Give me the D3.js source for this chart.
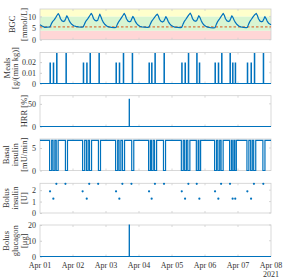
<!DOCTYPE html>
<html><head><meta charset="utf-8">
<script src="https://cdn.jsdelivr.net/npm/d3@7"></script>
<style>
html,body{margin:0;padding:0;background:#fff;}
svg{display:block;}
text{font-family:"Liberation Serif","DejaVu Serif",serif;}
</style></head><body>
<svg id="chart" width="299" height="277"></svg>
<script>
// ---- data (hours since 2021-04-01 00:00) ----
const xTickLabels = ["Apr 01","Apr 02","Apr 03","Apr 04","Apr 05","Apr 06","Apr 07","Apr 08"];
const bgc = [
[0,6.4],[1.5,5.9],[3.5,5.3],[5.5,5.4],[7.3,5.5],[8.3,6.9],[9.3,7.9],[10.3,8.5],[11.3,9.4],[12.3,10.4],[13.3,11.2],[14.1,10.4],[14.9,9.0],[16,8.1],[17,7.8],[18,8.1],[18.8,9.2],[19.5,10.3],[20.3,9.5],[21.2,8.2],[22.2,7.2],[23.3,6.5],
[24.5,6.0],[26,5.7],[28,5.5],[30,5.4],[31.4,5.5],[32.4,6.8],[33.4,8.0],[34.4,8.7],[35.4,9.6],[36.4,10.5],[37.3,11.3],[38.1,10.5],[38.9,9.1],[40,8.3],[41,8.1],[42,8.4],[42.8,9.8],[43.5,11.0],[44.3,9.9],[45.2,8.5],[46.2,7.3],[47.3,6.5],
[48.5,5.9],[50,5.5],[52,5.3],[54,5.2],[55.3,5.3],[56.3,6.7],[57.3,7.8],[58.3,8.6],[59.3,9.5],[60.3,10.4],[61.3,11.3],[62.1,10.4],[62.9,9.0],[64,8.0],[65,7.7],[66,7.9],[66.8,9.0],[67.5,10.0],[68.3,9.3],[69.2,8.0],[70.2,7.0],[71.3,6.3],
[72.5,5.8],[74,5.5],[76,5.4],[78,5.3],[79.3,5.4],[80.3,6.8],[81.3,8.0],[82.3,8.8],[83.3,9.6],[84.3,10.4],[85.3,11.0],[86.1,10.2],[86.9,8.8],[88,7.9],[89,7.6],[90,7.9],[90.8,8.9],[91.5,9.9],[92.3,9.2],[93.2,7.9],[94.2,6.9],[95.3,6.2],
[96.5,5.8],[98,5.4],[100,5.3],[102,5.2],[103.1,5.3],[104.1,6.8],[105.1,8.0],[106.1,8.8],[107.1,9.7],[108.1,10.6],[109.3,11.4],[110.1,10.5],[110.9,9.1],[112,8.2],[113,7.9],[114,8.2],[114.8,9.3],[115.5,10.3],[116.3,9.6],[117.2,8.3],[118.2,7.1],[119.3,6.3],
[120.5,5.8],[122,5.4],[124,5.2],[126,5.1],[127.3,5.2],[128.3,6.7],[129.3,7.9],[130.3,8.7],[131.3,9.6],[132.3,10.5],[133.3,11.3],[134.1,10.4],[134.9,9.0],[136,8.1],[137,7.8],[138,8.1],[138.8,9.2],[139.5,10.3],[140.3,9.6],[141.2,8.4],[142.2,7.3],[143.3,6.5],
[144.5,5.9],[146,5.5],[148,5.3],[150,5.2],[150.8,5.3],[151.8,6.8],[152.8,8.0],[153.8,8.8],[154.8,9.7],[155.8,10.5],[157.3,11.3],[158.1,10.4],[158.9,9.0],[160,8.0],[161,7.7],[162,7.9],[162.8,8.9],[163.5,9.9],[164.3,9.2],[165.2,8.0],[166.2,7.1],[168,6.4]
];
const bgcTarget = 5.5;
const bgcBands = [[0,3.9,"#ffd6d6"],[3.9,10,"#d8f5d2"],[10,13.3,"#ffffcc"]];
const meals = [
[7.3,0.019],[9.7,0.019],[12.1,0.028],[18.9,0.028],
[31.5,0.019],[34.0,0.019],[36.4,0.028],[42.9,0.028],
[55.3,0.019],[57.7,0.019],[60.6,0.028],[67.1,0.028],
[79.3,0.019],[81.2,0.019],[83.6,0.028],[90.2,0.028],
[103.1,0.019],[105.5,0.019],[107.9,0.028],[114.0,0.028],[115.9,0.019],
[127.3,0.019],[129.7,0.019],[132.1,0.028],[138.2,0.028],[140.1,0.019],[142.0,0.019],
[150.8,0.019],[153.5,0.019],[155.9,0.028],[162.4,0.028]
];
const hrr = [[64.9,60]];
const basalHigh = 6.7;
const basalZero = [
[7.0,8.5],[9.5,10.8],[11.8,13.2],[18.5,20.0],
[31.0,32.5],[33.8,35.0],[36.0,37.5],[42.5,44.0],
[55.0,56.5],[57.5,58.8],[60.0,61.5],[66.7,68.2],
[79.0,80.3],[81.0,82.3],[83.3,84.8],[89.8,91.3],
[102.8,104.2],[105.2,106.5],[107.5,109.0],[113.7,115.0],[115.6,116.8],
[127.0,128.4],[129.4,130.7],[131.7,133.2],[137.9,139.2],[139.8,141.0],[141.7,142.8],
[150.5,151.9],[153.2,154.4],[155.4,156.9],[162.1,163.6]
];
const bolus = [
[7.3,1.9],[9.7,1.25],[11.9,2.55],[18.5,2.55],
[31.0,1.9],[34.0,1.25],[35.8,2.55],[42.3,2.55],
[55.3,1.9],[57.7,1.25],[59.9,2.55],[66.5,2.55],
[79.3,1.9],[81.2,1.25],[83.6,2.55],[90.2,2.55],
[103.1,1.9],[105.5,1.25],[107.9,2.55],[114.0,2.55],[115.9,1.25],
[127.3,1.9],[129.7,1.25],[131.7,2.55],[138.2,2.55],[140.1,1.25],[142.0,1.25],
[150.8,1.9],[153.5,1.25],[155.6,2.55],[162.4,2.55]
];
const glucagon = [[64.9,20]];

// ---- layout ----
const svg = d3.select("#chart");
const t0 = new Date(2021,3,1);
const hToDate = h => new Date(t0.getTime() + h*3600e3);
const x = d3.scaleTime().domain([t0, new Date(2021,3,8)]).range([40,271]);
const blue = "#0072BD";
const axisCol = "#cfcfcf";
const txtCol = "#333";

const panels = [
 {top:9, bot:39.7, dom:[0,13.2], ticks:[0,5,10], fmt:d=>d, labels:["BGC","[mmol/L]"], lx:[12.5,24]},
 {top:52.5, bot:83.5, dom:[0,0.029], ticks:[0,0.01,0.02], fmt:d=>d===0?"0":d.toFixed(2), labels:["Meals","[g/(min kg)]"], lx:[7,15.5]},
 {top:95.7, bot:126.5, dom:[0,68], ticks:[0,50], fmt:d=>d, labels:["HRR [%]"], lx:[24]},
 {top:139, bot:170.5, dom:[0,7], ticks:[0,5], fmt:d=>d, labels:["Basal","insulin","[mU/min]"], lx:[6.5,15,24]},
 {top:183.3, bot:213, dom:[0,2.6], ticks:[0,1,2], fmt:d=>d, labels:["Bolus","insulin","[U]"], lx:[6.5,15,24]},
 {top:225, bot:256.5, dom:[0,20], ticks:[0,10,20], fmt:d=>d, labels:["Bolus","glucagon","[\u03bcg]"], lx:[6.5,15,24]}
];
panels.forEach(p => { p.y = d3.scaleLinear().domain(p.dom).range([p.bot,p.top]); });

const days = d3.range(0,8).map(d => new Date(2021,3,1+d));

function frame(p, i){
  const g = svg.append("g");
  g.append("rect").attr("x",40).attr("y",p.top).attr("width",231).attr("height",p.bot-p.top)
   .attr("fill","none").attr("stroke",axisCol).attr("stroke-width",0.8);
  days.slice(1,7).forEach(d=>{
    g.append("line").attr("x1",x(d)).attr("x2",x(d)).attr("y1",p.bot).attr("y2",p.bot-2).attr("stroke",axisCol).attr("stroke-width",0.8);
    g.append("line").attr("x1",x(d)).attr("x2",x(d)).attr("y1",p.top).attr("y2",p.top+2).attr("stroke",axisCol).attr("stroke-width",0.8);
  });
  const ax = d3.axisLeft(p.y).tickValues(p.ticks).tickFormat(p.fmt).tickSizeInner(-2).tickSizeOuter(0).tickPadding(4);
  const ag = g.append("g").attr("transform","translate(40,0)").call(ax);
  ag.select(".domain").remove();
  ag.selectAll("line").attr("stroke",axisCol);
  ag.selectAll("text").attr("fill",txtCol).style("font-size","8px").style("font-family","'Liberation Serif',serif");
  p.ticks.forEach(t=>{
    g.append("line").attr("x1",271).attr("x2",269).attr("y1",p.y(t)).attr("y2",p.y(t)).attr("stroke",axisCol).attr("stroke-width",0.8);
  });
  const cy = (p.top+p.bot)/2;
  p.labels.forEach((lab,j)=>{
    svg.append("text").attr("transform",`translate(${p.lx[j]},${cy}) rotate(-90)`)
      .attr("text-anchor","middle").attr("dy","0.35em").attr("fill",txtCol)
      .style("font-size","8.5px").text(lab);
  });
}

{
  const p = panels[0];
  bgcBands.forEach(b=>{
    svg.append("rect").attr("x",40).attr("width",231)
      .attr("y",p.y(Math.min(b[1],p.dom[1]))).attr("height",p.y(b[0])-p.y(Math.min(b[1],p.dom[1])))
      .attr("fill",b[2]);
  });
}
panels.forEach(frame);

{
  const p = panels[0];
  svg.append("line").attr("x1",40).attr("x2",271).attr("y1",p.y(bgcTarget)).attr("y2",p.y(bgcTarget))
    .attr("stroke","#D95319").attr("stroke-width",1).attr("stroke-dasharray","2.5,2");
  svg.append("path").datum(bgc).attr("fill","none").attr("stroke",blue).attr("stroke-width",1.2)
    .attr("stroke-linejoin","round")
    .attr("d", d3.line().x(d=>x(hToDate(d[0]))).y(d=>p.y(d[1])));
}
function spikes(p, data, w){
  const pts = [[0,0]];
  data.forEach(d=>{ pts.push([d[0],0],[d[0],d[1]],[d[0]+w,d[1]],[d[0]+w,0]); });
  pts.push([168,0]);
  svg.append("path").datum(pts).attr("fill","none").attr("stroke",blue).attr("stroke-width",1.2)
    .attr("d", d3.line().x(d=>x(hToDate(d[0]))).y(d=>p.y(d[1])));
}
spikes(panels[1], meals, 0.25);
spikes(panels[2], hrr, 0.1);
{
  const p = panels[3];
  const pts = [[0,basalHigh]];
  basalZero.forEach(z=>{ pts.push([z[0],basalHigh],[z[0],0],[z[1],0],[z[1],basalHigh]); });
  pts.push([168,basalHigh]);
  svg.append("path").datum(pts).attr("fill","none").attr("stroke",blue).attr("stroke-width",1.2)
    .attr("d", d3.line().x(d=>x(hToDate(d[0]))).y(d=>p.y(d[1])));
}
{
  const p = panels[4];
  svg.append("g").selectAll("circle").data(bolus).join("circle")
    .attr("cx",d=>x(hToDate(d[0]))).attr("cy",d=>p.y(d[1])).attr("r",1.1).attr("fill",blue);
}
spikes(panels[5], glucagon, 0.1);

{
  const p = panels[5];
  days.forEach((d,i)=>{
    svg.append("text").attr("x",x(d)).attr("y",p.bot+11).attr("text-anchor","middle")
      .attr("fill",txtCol).style("font-size","8px").text(xTickLabels[i]);
  });
  svg.append("text").attr("x",x(days[7])).attr("y",p.bot+20).attr("text-anchor","middle")
    .attr("fill",txtCol).style("font-size","8px").text("2021");
}
</script></body></html>
